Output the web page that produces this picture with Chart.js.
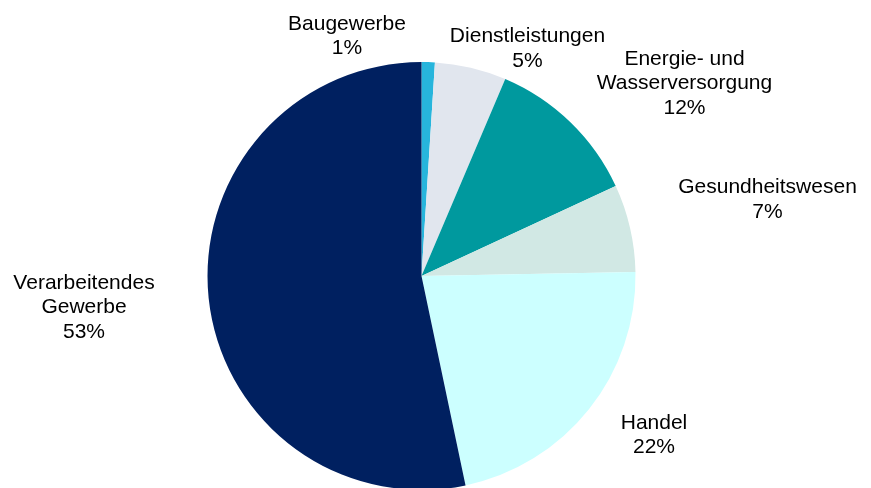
<!DOCTYPE html>
<html>
<head>
<meta charset="utf-8">
<script src="https://cdn.jsdelivr.net/npm/chart.js@4/dist/chart.umd.min.js"></script>
<style>
  html, body { margin: 0; padding: 0; background: #fff; overflow: hidden; width: 871px; height: 488px; }
  #wrap { position: relative; width: 871px; height: 492px; }
</style>
</head>
<body>
<div id="wrap"><canvas id="c" width="871" height="492"></canvas></div>
<script>
// Data
const categories = ["Baugewerbe", "Dienstleistungen", "Energie- und Wasserversorgung", "Gesundheitswesen", "Handel", "Verarbeitendes Gewerbe"];
const shares = [1.0, 5.4, 11.7, 6.6, 22.0, 53.3];
const labelLines = [
  ["Baugewerbe"],
  ["Dienstleistungen"],
  ["Energie- und", "Wasserversorgung"],
  ["Gesundheitswesen"],
  ["Handel"],
  ["Verarbeitendes", "Gewerbe"]
];
const sliceColors = ["#27b5dc", "#e1e6ee", "#00999e", "#d1e8e4", "#ccffff", "#002060"];

// Label anchor layout (x centre, y of first line's cap middle)
const labelAnchors = [
  [347, 22], [527.5, 34.5], [684.5, 57], [767.5, 185.5], [654, 421], [84, 281]
];

const outsideLabels = {
  id: 'outsideLabels',
  afterDatasetsDraw(chart) {
    const ctx = chart.ctx;
    const ds = chart.data.datasets[0];
    const total = ds.data.reduce((a, b) => a + b, 0);
    const fs = 21, lh = 24.5;
    ctx.save();
    ctx.font = fs + 'px "Liberation Sans", Arial, sans-serif';
    ctx.fillStyle = '#000000';
    ctx.textAlign = 'center';
    ctx.textBaseline = 'alphabetic';
    ds.data.forEach((v, i) => {
      const lines = labelLines[i].concat([Math.round(v / total * 100) + '%']);
      const [x, y0] = labelAnchors[i];
      lines.forEach((t, k) => {
        ctx.fillText(t, x, y0 + k * lh + 0.358 * fs);
      });
    });
    ctx.restore();
  }
};

new Chart(document.getElementById('c'), {
  type: 'pie',
  data: {
    labels: categories,
    datasets: [{
      data: shares,
      backgroundColor: sliceColors,
      borderWidth: 0,
      hoverOffset: 0
    }]
  },
  options: {
    responsive: false,
    devicePixelRatio: 1,
    animation: false,
    layout: { padding: { top: 62, bottom: 2, left: 0, right: 28 } },
    plugins: {
      legend: { display: false },
      tooltip: { enabled: false }
    }
  },
  plugins: [outsideLabels]
});
</script>
</body>
</html>
